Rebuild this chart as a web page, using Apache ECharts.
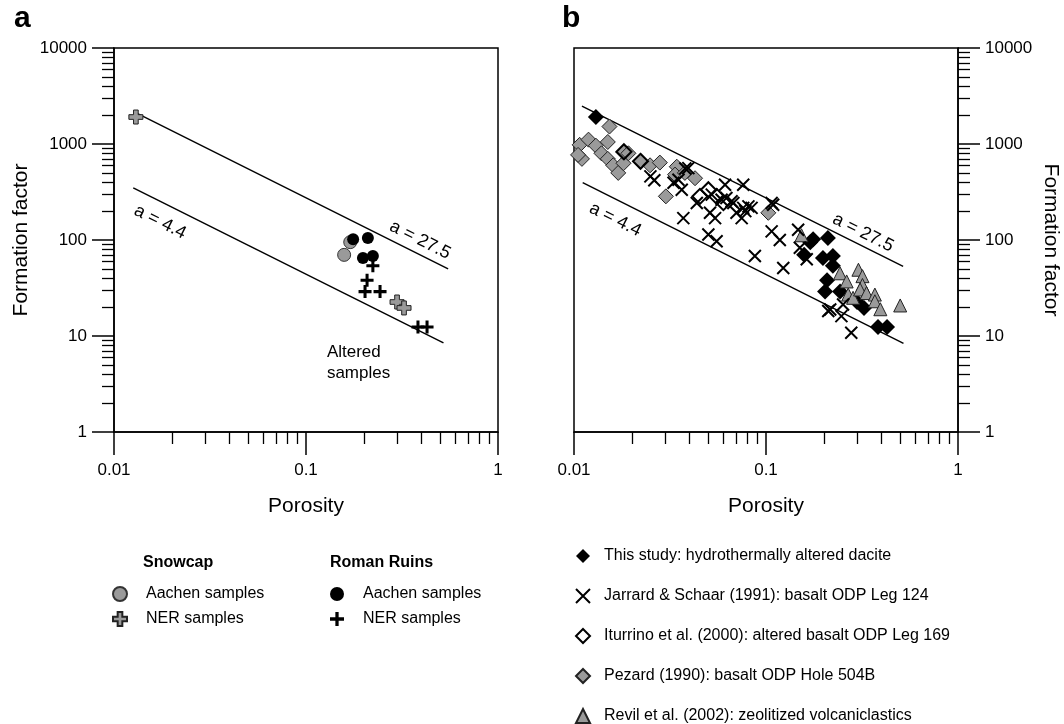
<!DOCTYPE html>
<html><head><meta charset="utf-8">
<script src="https://cdn.jsdelivr.net/npm/echarts@6/dist/echarts.min.js"></script>
<style>html,body{margin:0;padding:0;background:#fff}#c{width:1064px;height:724px}</style>
</head><body><div id="c"></div>
<script>
// ---------- data (porosity, formation factor) ----------
const snowcapAachen = [[0.158, 70], [0.170, 95]];
const snowcapNER = [[0.0130, 1910], [0.298, 22.6], [0.324, 19.6]];
const romanAachen = [[0.176, 102], [0.210, 105], [0.198, 65], [0.223, 68]];
const romanNER = [[0.223, 54], [0.208, 38], [0.203, 29], [0.243, 29], [0.383, 12.4], [0.427, 12.4]];

const jarrard = [[0.0250, 460], [0.0330, 395], [0.0350, 425], [0.0380, 555], [0.0364, 334], [0.0371, 169],
  [0.0436, 243], [0.0501, 114], [0.0553, 97], [0.0511, 192], [0.0543, 169], [0.0612, 377], [0.0676, 243],
  [0.0622, 274], [0.0747, 169], [0.0761, 377], [0.0841, 216], [0.0780, 200], [0.0875, 68], [0.109, 233],
  [0.107, 123], [0.118, 100], [0.123, 51], [0.147, 128], [0.150, 83], [0.163, 63], [0.211, 18.2],
  [0.247, 16.1], [0.252, 21.3], [0.278, 10.8], [0.0522, 297], [0.0587, 263], [0.0662, 253], [0.0702, 192],
  [0.0761, 216], [0.107, 243], [0.081, 224], [0.0394, 561], [0.0262, 420], [0.216, 18.9]];
const iturrino = [[0.0453, 285], [0.0501, 334], [0.0553, 285], [0.0600, 245], [0.0182, 830], [0.0222, 660]];
const pezard = [[0.0107, 980], [0.0110, 700], [0.0105, 770], [0.0119, 1110], [0.0130, 960], [0.0139, 800],
  [0.0150, 1050], [0.0153, 1520], [0.0150, 700], [0.0160, 600], [0.0170, 500], [0.0181, 630], [0.0181, 820],
  [0.0192, 800], [0.0221, 658], [0.0249, 600], [0.0280, 640], [0.0301, 285], [0.0343, 580], [0.0336, 480],
  [0.0378, 500], [0.0427, 440], [0.1028, 192]];
const revil = [[0.153, 112], [0.243, 45], [0.263, 37], [0.268, 27], [0.284, 25], [0.303, 49], [0.318, 42],
  [0.318, 34], [0.309, 30.5], [0.334, 28], [0.369, 27], [0.369, 23], [0.394, 19], [0.500, 20.8]];
const thisStudy = [].concat(snowcapAachen, snowcapNER, romanAachen, romanNER);

// reference lines (end points)
const lineA275a = [[0.0132, 2080], [0.55, 50]];
const lineA44a = [[0.0126, 349], [0.52, 8.5]];
const lineA275b = [[0.0110, 2480], [0.518, 53]];
const lineA44b = [[0.0111, 395], [0.52, 8.4]];

// tick labels / names
const xTicks = ['0.01', '0.1', '1'];
const yTicks = ['1', '10', '100', '1000', '10000'];

// annotation texts (positions in data units)
const annotA = [{ value: [0.393, 100], name: 'a = 27.5' }, { value: [0.0174, 154], name: 'a = 4.4' }];
const annotB = [{ value: [0.32, 119], name: 'a = 27.5' }, { value: [0.0164, 163], name: 'a = 4.4' }];
const alteredNote = [{ value: [0.1285, 5.2], name: 'Altered\nsamples' }];

const FONT = '"Liberation Sans", Arial, Helvetica, sans-serif';
const PLUS_FAT = 'path://M4,0H8V4H12V8H8V12H4V8H0V4H4Z';
const PLUS_THIN = 'path://M4.6,0H7.4V4.6H12V7.4H7.4V12H4.6V7.4H0V4.6H4.6Z';
const XMARK = 'path://M0,0L12,12M12,0L0,12';
const GRAY = '#9a9a9a';

const legendNames = {
  'sAachen': 'Aachen samples', 'sNER': 'NER samples',
  'rAachen': 'Aachen samples', 'rNER': 'NER samples'
};

const fmtNum = v => { const s = String(Number(Number(v).toPrecision(6))); return (xTicks.includes(s) || yTicks.includes(s)) ? s : ''; };

function xAxis(gi) {
  return {
    type: 'log', logBase: 10, gridIndex: gi, min: 0.01, max: 1,
    name: 'Porosity', nameLocation: 'middle', nameGap: 64,
    nameTextStyle: { fontSize: 21, color: '#000', fontFamily: FONT },
    axisLine: { show: true, onZero: false, lineStyle: { color: '#000', width: 1.5 } },
    axisTick: { show: true, length: 23, lineStyle: { color: '#000', width: 1.5 } },
    minorTick: { show: true, splitNumber: 9, length: 12, lineStyle: { color: '#000', width: 1.3 } },
    axisLabel: { fontSize: 17, color: '#000', margin: 30, fontFamily: FONT, formatter: fmtNum },
    splitLine: { show: false }, minorSplitLine: { show: false }
  };
}
function yAxis(gi, pos) {
  return {
    type: 'log', logBase: 10, gridIndex: gi, min: 1, max: 10000, position: pos,
    name: 'Formation factor', nameLocation: 'middle', nameGap: 82, nameRotate: pos === 'right' ? -90 : 90,
    nameTextStyle: { fontSize: 21, color: '#000', fontFamily: FONT },
    axisLine: { show: true, onZero: false, lineStyle: { color: '#000', width: 1.5 } },
    axisTick: { show: true, length: 22, lineStyle: { color: '#000', width: 1.5 } },
    minorTick: { show: true, splitNumber: 9, length: 12, lineStyle: { color: '#000', width: 1.3 } },
    axisLabel: { fontSize: 17, color: '#000', margin: 27, fontFamily: FONT, formatter: fmtNum },
    splitLine: { show: false }, minorSplitLine: { show: false }
  };
}
function refLine(data, ax) {
  return { type: 'line', xAxisIndex: ax, yAxisIndex: ax, data: data, symbol: 'none', silent: true,
    lineStyle: { color: '#000', width: 1.4 }, z: 1, animation: false };
}
const labelBase = { show: true, position: 'inside', formatter: '{b}', color: '#000', opacity: 1,
  textBorderWidth: 0, textShadowBlur: 0, fontFamily: FONT, verticalAlign: 'middle' };
function annot(data, ax) {
  return { type: 'scatter', xAxisIndex: ax, yAxisIndex: ax, data: data, symbolSize: 0, silent: true, z: 5,
    itemStyle: { opacity: 1 },
    label: Object.assign({}, labelBase, { rotate: -26.57, fontSize: 18, align: 'center' }) };
}

const series = [
  refLine(lineA275a, 0), refLine(lineA44a, 0),
  { name: 'sAachen', type: 'scatter', xAxisIndex: 0, yAxisIndex: 0, data: snowcapAachen, symbol: 'circle', symbolSize: 13,
    itemStyle: { color: GRAY, borderColor: '#333', borderWidth: 1, opacity: 1 }, z: 2 },
  { name: 'rAachen', type: 'scatter', xAxisIndex: 0, yAxisIndex: 0, data: romanAachen, symbol: 'circle', symbolSize: 12,
    itemStyle: { color: '#000', opacity: 1 }, z: 3 },
  { name: 'sNER', type: 'scatter', xAxisIndex: 0, yAxisIndex: 0, data: snowcapNER, symbol: PLUS_FAT, symbolSize: 14,
    itemStyle: { color: GRAY, borderColor: '#222', borderWidth: 1, opacity: 1 }, z: 4 },
  { name: 'rNER', type: 'scatter', xAxisIndex: 0, yAxisIndex: 0, data: romanNER, symbol: PLUS_THIN, symbolSize: 13,
    itemStyle: { color: '#000', opacity: 1 }, z: 4 },
  annot(annotA, 0),
  { type: 'scatter', xAxisIndex: 0, yAxisIndex: 0, data: alteredNote, symbolSize: 0, silent: true, z: 5,
    itemStyle: { opacity: 1 },
    label: Object.assign({}, labelBase, { fontSize: 17, lineHeight: 21, align: 'left' }) },

  refLine(lineA275b, 1), refLine(lineA44b, 1),
  { name: 'Pezard (1990): basalt ODP Hole 504B', type: 'scatter', xAxisIndex: 1, yAxisIndex: 1, data: pezard,
    symbol: 'diamond', symbolSize: 15, itemStyle: { color: GRAY, borderColor: '#222', borderWidth: 1, opacity: 1 }, z: 2 },
  { name: 'Iturrino et al. (2000): altered basalt ODP Leg 169', type: 'scatter', xAxisIndex: 1, yAxisIndex: 1, data: iturrino,
    symbol: 'diamond', symbolSize: 15, itemStyle: { color: 'rgba(255,255,255,0)', borderColor: '#000', borderWidth: 2, opacity: 1 }, z: 3 },
  { name: 'This study: hydrothermally altered dacite', type: 'scatter', xAxisIndex: 1, yAxisIndex: 1, data: thisStudy,
    symbol: 'diamond', symbolSize: 16, itemStyle: { color: '#000', opacity: 1 }, z: 3 },
  { name: 'Revil et al. (2002): zeolitized volcaniclastics', type: 'scatter', xAxisIndex: 1, yAxisIndex: 1, data: revil,
    symbol: 'triangle', symbolSize: 13, itemStyle: { color: GRAY, borderColor: '#222', borderWidth: 1, opacity: 1 }, z: 4 },
  { name: 'Jarrard & Schaar (1991): basalt ODP Leg 124', type: 'scatter', xAxisIndex: 1, yAxisIndex: 1, data: jarrard,
    symbol: XMARK, symbolSize: 12, itemStyle: { color: 'rgba(0,0,0,0)', borderColor: '#000', borderWidth: 2, opacity: 1 }, z: 5 },
  annot(annotB, 1)
];

const legendText = { fontSize: 16, color: '#000', fontFamily: FONT };
const option = {
  animation: false,
  backgroundColor: '#fff',
  grid: [
    { left: 114, top: 48, width: 384, height: 384, show: true, borderColor: '#000', borderWidth: 1.5, backgroundColor: 'transparent' },
    { left: 574, top: 48, width: 384, height: 384, show: true, borderColor: '#000', borderWidth: 1.5, backgroundColor: 'transparent' }
  ],
  xAxis: [xAxis(0), xAxis(1)],
  yAxis: [yAxis(0, 'left'), yAxis(1, 'right')],
  legend: [
    { data: ['sAachen', 'sNER'], orient: 'vertical', left: 112, top: 586, padding: 0, itemWidth: 14, itemHeight: 14, itemGap: 9,
      selectedMode: false, formatter: n => legendNames[n], textStyle: Object.assign({ padding: [0, 0, 0, 14] }, legendText) },
    { data: ['rAachen', 'rNER'], orient: 'vertical', left: 330, top: 586, padding: 0, itemWidth: 14, itemHeight: 14, itemGap: 9,
      selectedMode: false, formatter: n => legendNames[n], textStyle: Object.assign({ padding: [0, 0, 0, 14] }, legendText) },
    { data: ['This study: hydrothermally altered dacite', 'Jarrard & Schaar (1991): basalt ODP Leg 124',
        'Iturrino et al. (2000): altered basalt ODP Leg 169', 'Pezard (1990): basalt ODP Hole 504B',
        'Revil et al. (2002): zeolitized volcaniclastics'],
      orient: 'vertical', left: 575, top: 548, height: 200, padding: 0, itemWidth: 14, itemHeight: 14, itemGap: 24,
      selectedMode: false, textStyle: Object.assign({ padding: [0, 0, 0, 9] }, legendText) }
  ],
  graphic: [
    { type: 'text', left: 14, top: 4, style: { text: 'a', font: 'bold 30px ' + FONT, fill: '#000' } },
    { type: 'text', left: 562, top: 4, style: { text: 'b', font: 'bold 30px ' + FONT, fill: '#000' } },
    { type: 'text', left: 143, top: 555, style: { text: 'Snowcap', font: 'bold 16px ' + FONT, fill: '#000' } },
    { type: 'text', left: 330, top: 555, style: { text: 'Roman Ruins', font: 'bold 16px ' + FONT, fill: '#000' } }
  ],
  series: series
};
const chart = echarts.init(document.getElementById('c'), null, { renderer: 'canvas' });
chart.setOption(option);
</script>
</body></html>
